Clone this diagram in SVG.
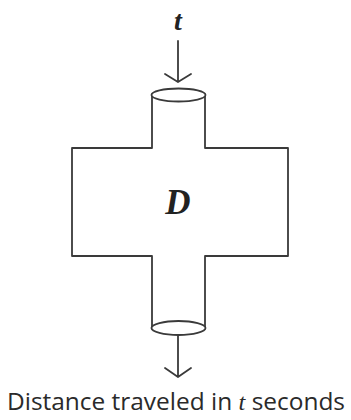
<svg xmlns="http://www.w3.org/2000/svg" width="351" height="420" viewBox="0 0 351 420">
<style>
.ln{fill:none;stroke:#3a3a3a;stroke-width:1.8;stroke-linecap:round;stroke-linejoin:round}
.el{fill:#fff;stroke:#3a3a3a;stroke-width:1.8}
.var{font-family:"Liberation Serif",serif;font-style:italic;font-weight:bold;fill:#222}
.cap{font-family:"Open Sans","Liberation Sans",sans-serif;font-size:23px;fill:#2a2a2a}
</style>
<rect width="351" height="420" fill="#fff"/>
<g id="input">
<text class="var" x="178" y="30" font-size="28" text-anchor="middle">t</text>
</g>
<g id="device">
<path class="ln" d="M152,95 V148 H72 V256 H152 V328 M205,95 V148 H288 V256 H205 V328"/>
<ellipse class="el" cx="178.5" cy="95" rx="27" ry="6.5"/>
<ellipse class="el" cx="178.5" cy="328" rx="27" ry="7"/>
<text class="var" x="178" y="214" font-size="35" text-anchor="middle">D</text>
</g>
<g id="connectors">
<path class="ln" d="M178,41 V82 M165,74 L178,82 L191,74"/>
<path class="ln" d="M178,336 V377 M165,368 L178,377 L191,368"/>
</g>
<g id="output">
<text class="cap" x="176" y="410" text-anchor="middle" textLength="338" lengthAdjust="spacingAndGlyphs">Distance traveled in <tspan font-family="Liberation Serif,serif" font-style="italic">t</tspan> seconds</text>
</g>
</svg>
